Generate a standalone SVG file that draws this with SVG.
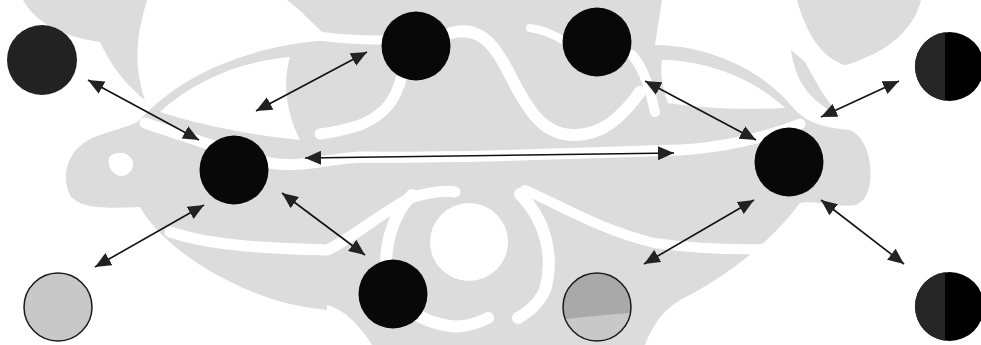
<svg xmlns="http://www.w3.org/2000/svg" width="981" height="345" viewBox="0 0 981 345">
  <style>
    .wm { fill: #dcdcdc; }
    .cut { fill: none; stroke: #ffffff; stroke-linecap: round; }
    .cutf { fill: #ffffff; }
    .link { stroke: #111111; stroke-width: 1.6; fill: none; marker-start: url(#head); marker-end: url(#head); }
    .dark { fill: #080808; }
    .soft { fill: #c8c8c8; stroke: #1a1a1a; stroke-width: 1.5; }
    .half-l { fill: #262626; }
    .half-r { fill: #000000; }
  </style>
  <defs>
    <marker id="head" viewBox="0 0 16 14" refX="16" refY="7" markerWidth="16" markerHeight="14" markerUnits="userSpaceOnUse" orient="auto-start-reverse">
      <path d="M0,0 L16,7 L0,14 Z" fill="#222222"/>
    </marker>
    <clipPath id="clipF">
      <circle cx="597" cy="307" r="34"/>
    </clipPath>
  </defs>

  <rect width="981" height="345" fill="#ffffff"/>

  <!-- background ornament -->
  <g id="ornament">
    <path class="wm" d="M23,0 H147 C138,30 132,62 145,100 C118,78 108,58 100,42 C75,38 40,30 23,0 Z"/>
    <path class="wm" d="M797,0 H921 C915,25 895,45 867,57 C855,62 848,65 844,65 C825,58 808,40 797,0 Z"/>
    <path class="wm" d="M791,50 C795,80 808,100 841,117 C825,100 815,80 805,62 Z"/>
    <path class="wm" d="M287,0 H662 L655,45 C700,45 760,65 795,110 C810,125 830,128 850,130 C875,140 878,200 855,205 C835,208 815,200 800,203 C780,230 740,270 680,300 C665,310 655,320 645,345 H372 C360,325 345,312 320,309 C280,305 240,290 200,265 C170,245 150,225 140,207 C110,208 80,210 70,195 C60,175 68,145 100,135 C120,128 135,125 140,120 C180,75 250,45 330,40 C315,25 300,10 287,0 Z"/>
    <!-- carved bands -->
    <path class="cutf" d="M160,112 C195,80 240,62 290,57 C283,80 285,110 300,140 C250,135 200,125 160,112 Z"/>
    <path class="cutf" d="M662,60 C700,60 750,75 785,108 C740,110 700,108 668,103 C662,88 660,72 662,60 Z"/>
    <path class="cut" stroke-width="9" d="M285,22 C300,35 330,40 385,40"/>
    <path class="cut" stroke-width="12" d="M451,33 C480,25 495,45 510,75 C530,115 545,135 575,135 C600,135 620,120 640,92"/>
    <path class="cut" stroke-width="11" d="M402,75 C396,100 385,115 360,125 C345,130 335,132 320,134"/>
    <path class="cut" stroke-width="8" d="M530,28 C545,30 555,35 566,42"/>
    <path class="cut" stroke-width="10" d="M632,55 C645,70 650,90 655,112"/>
    <path class="cut" stroke-width="11" d="M145,123 C190,138 230,152 270,163 C300,168 320,160 360,157 C450,158 560,154 680,150 C720,148 765,138 800,124"/>
    <path class="cutf" d="M110,156 C118,150 130,152 133,162 C134,170 128,176 120,176 C112,174 106,165 110,156 Z"/>
    <path class="cut" stroke-width="11" d="M170,232 C200,242 240,248 327,250 C350,240 370,220 410,198 C430,192 445,190 455,192"/>
    <circle class="cutf" cx="469" cy="242" r="39"/>
    <path class="cut" stroke-width="12" d="M412,195 C392,215 382,250 388,278 C396,305 420,322 450,326 C465,328 478,323 488,318"/>
    <path class="cut" stroke-width="12" d="M520,194 C545,220 555,255 545,290 C538,305 528,312 518,318"/>
    <path class="cut" stroke-width="10" d="M525,190 C560,205 600,230 654,243 C690,248 730,250 767,249"/>
    <path class="cutf" d="M327,305 C345,310 360,325 370,345 H327 Z"/>
  </g>

  <g id="connectors">
    <line class="link" x1="88" y1="80" x2="199" y2="140"/>
    <line class="link" x1="256" y1="111" x2="367" y2="52"/>
    <line class="link" x1="305" y1="158" x2="674" y2="153"/>
    <line class="link" x1="204" y1="205" x2="95" y2="267"/>
    <line class="link" x1="282" y1="193" x2="365" y2="255"/>
    <line class="link" x1="645" y1="81" x2="756" y2="140"/>
    <line class="link" x1="821" y1="117" x2="899" y2="81"/>
    <line class="link" x1="754" y1="200" x2="644" y2="264"/>
    <line class="link" x1="821" y1="200" x2="904" y2="264"/>
  </g>

  <g id="node-a"><circle cx="42" cy="60" r="35" fill="#222222"/></g>
  <g id="node-b"><circle class="dark" cx="234" cy="170" r="34.5"/></g>
  <g id="node-c"><circle class="dark" cx="416" cy="46" r="34.5"/></g>
  <g id="node-d"><circle class="dark" cx="393" cy="294" r="34.5"/></g>
  <g id="node-e"><circle class="dark" cx="597" cy="42" r="34.5"/></g>
  <g id="node-h"><circle class="dark" cx="789" cy="162" r="34.5"/></g>
  <g id="node-g"><circle class="soft" cx="58" cy="307" r="34"/></g>
  <g id="node-f">
    <circle cx="597" cy="307" r="34" fill="#c8c8c8"/>
    <path clip-path="url(#clipF)" d="M560,270 H640 V312 C620,314 590,316 560,320 Z" fill="#a9a9a9"/>
    <circle cx="597" cy="307" r="34" fill="none" stroke="#1a1a1a" stroke-width="1.5"/>
  </g>
  <g id="node-i">
    <circle class="half-r" cx="949.5" cy="66.5" r="34.5"/>
    <path class="half-l" d="M945,32.3 A34.5,34.5 0 0 0 945,100.7 Z"/>
  </g>
  <g id="node-j">
    <circle class="half-r" cx="949.5" cy="306.5" r="34.5"/>
    <path class="half-l" d="M945,272.3 A34.5,34.5 0 0 0 945,340.7 Z"/>
  </g>
</svg>
